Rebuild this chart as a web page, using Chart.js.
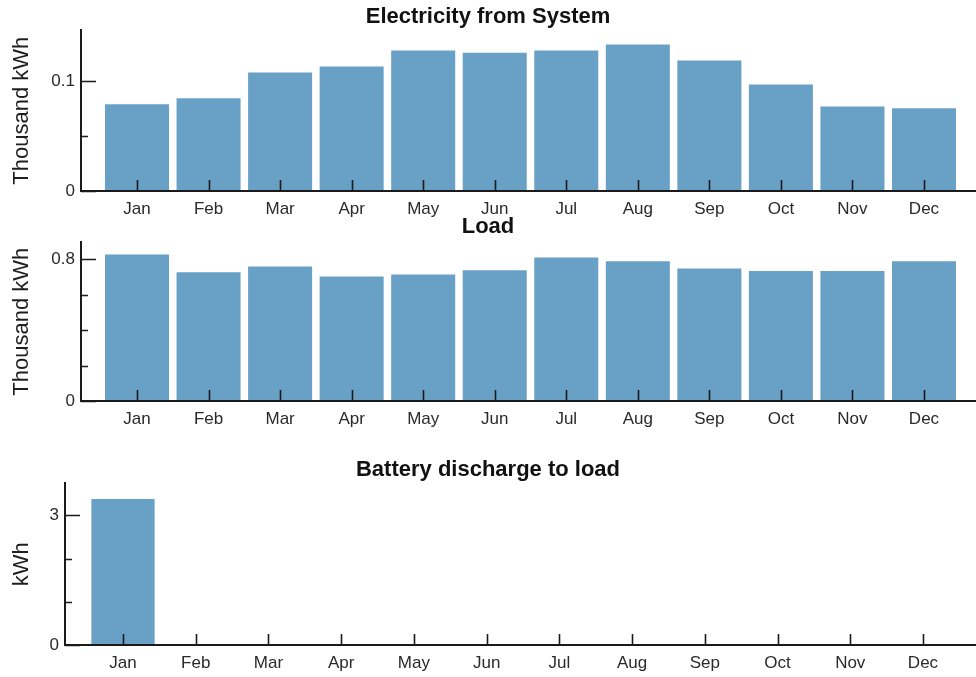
<!DOCTYPE html>
<html>
<head>
<meta charset="utf-8">
<script src="https://cdn.jsdelivr.net/npm/chart.js@4.4.1/dist/chart.umd.min.js"></script>
<style>
  html, body { margin: 0; padding: 0; background: #ffffff; }
  #wrap { position: relative; width: 976px; height: 677px; overflow: hidden; }
  #wrap canvas { position: absolute; left: 0; }
</style>
</head>
<body>
<div id="wrap">
  <canvas id="systemChart" width="976" height="225" style="top:0px"></canvas>
  <canvas id="loadChart" width="976" height="240" style="top:214px"></canvas>
  <canvas id="batteryChart" width="976" height="220" style="top:457px"></canvas>
</div>
<script>
// Monthly energy figures
const months = ['Jan', 'Feb', 'Mar', 'Apr', 'May', 'Jun', 'Jul', 'Aug', 'Sep', 'Oct', 'Nov', 'Dec'];

// Thousand kWh
const electricityFromSystem = [0.079, 0.0845, 0.108, 0.1136, 0.128, 0.126, 0.128, 0.1336, 0.119, 0.097, 0.077, 0.0755];
// Thousand kWh
const load = [0.828, 0.727, 0.760, 0.704, 0.715, 0.738, 0.811, 0.789, 0.749, 0.734, 0.734, 0.790];
// kWh
const batteryDischarge = [3.38, 0, 0, 0, 0, 0, 0, 0, 0, 0, 0, 0];

// Labelled and unlabelled value-axis ticks
const systemTicks = [0, 0.1];
const systemMinorTicks = [0.05];
const loadTicks = [0, 0.8];
const loadMinorTicks = [0.2, 0.4, 0.6];
const batteryTicks = [0, 3];
const batteryMinorTicks = [1, 2];

const FONT = "'Liberation Sans', Arial, sans-serif";
const BAR_COLOR = '#69a1c6';
const AXIS_COLOR = '#1a1a1a';

// Short tick marks pointing into the plot area, drawn over the bars
const innerTicks = {
  id: 'innerTicks',
  afterDatasetsDraw(chart, args, opts) {
    const { ctx, chartArea, scales: { x, y } } = chart;
    ctx.save();
    ctx.strokeStyle = AXIS_COLOR;
    ctx.lineWidth = 1.6;
    ctx.beginPath();
    x.ticks.forEach(t => {
      const px = Math.round(x.getPixelForValue(t.value)) + 0.5;
      ctx.moveTo(px, chartArea.bottom);
      ctx.lineTo(px, chartArea.bottom - opts.xLen);
    });
    y.ticks.forEach(t => {
      const py = Math.round(y.getPixelForValue(t.value)) + 0.5;
      ctx.moveTo(chartArea.left, py);
      ctx.lineTo(chartArea.left + opts.majorLen, py);
    });
    (opts.minor || []).forEach(v => {
      const py = Math.round(y.getPixelForValue(v)) + 0.5;
      ctx.moveTo(chartArea.left, py);
      ctx.lineTo(chartArea.left + opts.minorLen, py);
    });
    ctx.stroke();
    ctx.restore();
  }
};

function makePanel(id, cfg) {
  const points = cfg.values.map((v, i) => ({ x: i + 1, y: v }));
  return new Chart(document.getElementById(id), {
    type: 'bar',
    data: {
      datasets: [{
        data: points,
        backgroundColor: BAR_COLOR,
        borderWidth: 0,
        barPercentage: cfg.barPct,
        categoryPercentage: 1
      }]
    },
    options: {
      responsive: false,
      animation: false,
      events: [],
      layout: { padding: 0 },
      plugins: {
        legend: { display: false },
        tooltip: { enabled: false },
        title: {
          display: true,
          text: cfg.title,
          color: '#111111',
          font: { family: FONT, size: 22, weight: 'bold', lineHeight: 1.2 },
          padding: cfg.titlePad
        },
        innerTicks: { xLen: 11, majorLen: 15, minorLen: 7, minor: cfg.minor }
      },
      scales: {
        x: {
          type: 'linear',
          min: cfg.xMin,
          max: cfg.xMax,
          offset: false,
          grid: { display: false, drawTicks: false },
          border: { display: true, color: AXIS_COLOR, width: 2, z: 1 },
          afterBuildTicks: s => { s.ticks = months.map((m, i) => ({ value: i + 1 })); },
          afterFit: s => { s.height = cfg.xHeight; },
          ticks: {
            autoSkip: false,
            maxRotation: 0,
            padding: 8,
            color: '#2a2a2a',
            font: { family: FONT, size: 17 },
            callback: v => months[Math.round(v) - 1]
          }
        },
        y: {
          min: 0,
          max: cfg.yMax,
          grid: { display: false, drawTicks: false },
          border: { display: true, color: AXIS_COLOR, width: 2, z: 1 },
          afterBuildTicks: s => { s.ticks = cfg.ticks.map(v => ({ value: v })); },
          afterFit: s => { s.width = cfg.yWidth; },
          ticks: {
            padding: 6,
            color: '#2a2a2a',
            font: { family: FONT, size: 17 },
            callback: v => String(v)
          },
          title: {
            display: true,
            text: cfg.yTitle,
            color: '#1e1e1e',
            font: { family: FONT, size: 22, lineHeight: 1.2 },
            padding: { top: cfg.yTitlePad, bottom: 0 }
          }
        }
      }
    },
    plugins: [innerTicks]
  });
}

makePanel('systemChart', {
  title: 'Electricity from System',
  values: electricityFromSystem,
  ticks: systemTicks,
  minor: systemMinorTicks,
  yMax: 0.1464,
  yTitle: 'Thousand kWh',
  yTitlePad: 9,
  yWidth: 81,
  xHeight: 34,
  xMin: 0.217,
  xMax: 12.727,
  barPct: 0.895,
  titlePad: { top: 4, bottom: 0 }
});

makePanel('loadChart', {
  title: 'Load',
  values: load,
  ticks: loadTicks,
  minor: loadMinorTicks,
  yMax: 0.896,
  yTitle: 'Thousand kWh',
  yTitlePad: 9,
  yWidth: 81,
  xHeight: 53,
  xMin: 0.217,
  xMax: 12.727,
  barPct: 0.895,
  titlePad: { top: 0, bottom: 2 }
});

makePanel('batteryChart', {
  title: 'Battery discharge to load',
  values: batteryDischarge,
  ticks: batteryTicks,
  minor: batteryMinorTicks,
  yMax: 3.74,
  yTitle: 'kWh',
  yTitlePad: 9,
  yWidth: 65,
  xHeight: 32,
  xMin: 0.2025,
  xMax: 12.729,
  barPct: 0.87,
  titlePad: { top: 0, bottom: 0 }
});
</script>
</body>
</html>
